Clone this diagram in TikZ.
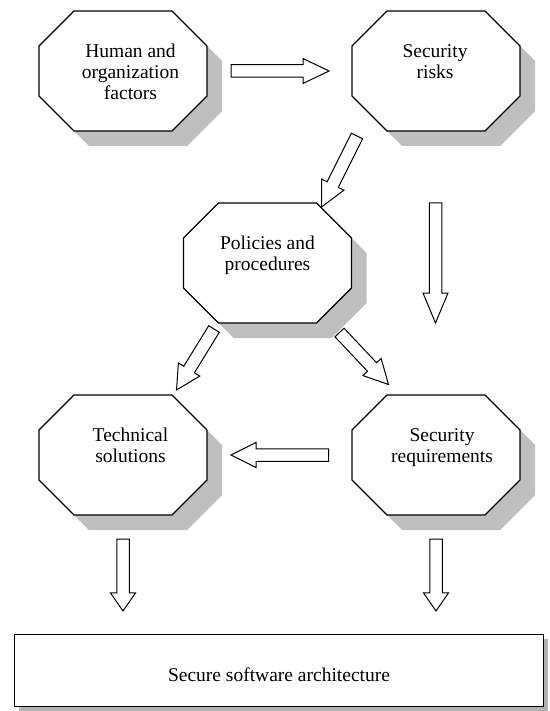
\documentclass[tikz,border=0pt]{standalone}
\usepackage{fontspec}
\setmainfont{Liberation Serif}
\usetikzlibrary{calc,shadows}

% octagon round a box node, shifted by (#2,#3)
\newcommand{\octpath}[3]{([shift={(35+#2,#3)}]#1.north west) -- ([shift={(-35+#2,#3)}]#1.north east)
  -- ([shift={(#2,35+#3)}]#1.north east) -- ([shift={(#2,-35+#3)}]#1.south east)
  -- ([shift={(-35+#2,#3)}]#1.south east) -- ([shift={(35+#2,#3)}]#1.south west)
  -- ([shift={(#2,-35+#3)}]#1.south west) -- ([shift={(#2,35+#3)}]#1.north west) -- cycle}

\begin{document}
\begin{tikzpicture}[x=1pt, y=-1pt,
    box/.style={minimum width=168pt, minimum height=120pt, inner sep=0pt, outer sep=0pt},
    octa/.style={draw, line width=1.1pt, fill=white},
    txt/.style={anchor=north, inner sep=0pt, align=center, font=\fontsize{19.5}{21}\selectfont},
    fatarrow/.style={line width=1pt, to path={
      ($(\tikztostart)!6.25pt!90:(\tikztotarget)$)
      -- ($(\tikztotarget)!#1!(\tikztostart)!6.25pt!-90:(\tikztostart)$)
      -- ($(\tikztotarget)!#1!(\tikztostart)!12.5pt!-90:(\tikztostart)$)
      -- (\tikztotarget)
      -- ($(\tikztotarget)!#1!(\tikztostart)!12.5pt!90:(\tikztostart)$)
      -- ($(\tikztotarget)!#1!(\tikztostart)!6.25pt!90:(\tikztostart)$)
      -- ($(\tikztostart)!6.25pt!-90:(\tikztotarget)$) -- cycle}},
    fatarrow/.default=25pt]
  \useasboundingbox (0,0) rectangle (549,711);

  % boxes
  \node[box] (human) at (123,71) {};
  \node[box] (risks) at (436,71) {};
  \node[box] (policies) at (267.5,263) {};
  \node[box] (tech) at (123,455) {};
  \node[box] (secreq) at (436,455) {};

  \foreach \b in {human, risks, policies, tech, secreq} {
    \fill[black!25] \octpath{\b}{15}{15};
    \draw[octa] \octpath{\b}{0}{0};
  }

  \node[draw, line width=1.1pt, fill=white, minimum width=529pt, minimum height=72pt,
    text height=22.5pt, text depth=0pt, font=\fontsize{19.5}{21}\selectfont,
    drop shadow={shadow xshift=4pt, shadow yshift=-4pt, fill=black!30, opacity=1}]
    (arch) at (279,670.5) {Secure software architecture};

  \node[txt] (human-t) at ([xshift=7.5pt,yshift=-33pt]human.north) {Human and\\organization\\factors};
  \node[txt] (risks-t) at ([xshift=-1pt,yshift=-33pt]risks.north) {Security\\risks};
  \node[txt] (policies-t) at ([yshift=-33pt]policies.north) {Policies and\\procedures};
  \node[txt] (tech-t) at ([xshift=7.5pt,yshift=-33pt]tech.north) {Technical\\solutions};
  \node[txt] (secreq-t) at ([xshift=6pt,yshift=-33pt]secreq.north) {Security\\requirements};

  % arrow ends
  \coordinate (a1s) at ([xshift=24pt]human.east);
  \coordinate (a1e) at ([xshift=-23pt]risks.west);
  \coordinate (a2s) at ([xshift=-79pt,yshift=-65pt]risks.center);
  \coordinate (a2e) at ([xshift=54pt,yshift=56pt]policies.center);
  \coordinate (a3s) at ([xshift=-0.5pt,yshift=-72pt]risks.south);
  \coordinate (a3e) at ([xshift=-0.5pt,yshift=72pt]secreq.north);
  \coordinate (a4s) at ([xshift=-53.5pt,yshift=-66pt]policies.center);
  \coordinate (a4e) at ([xshift=53.5pt,yshift=65pt]tech.center);
  \coordinate (a5s) at ([xshift=72pt,yshift=-69.5pt]policies.center);
  \coordinate (a5e) at ([xshift=-47.5pt,yshift=70.5pt]secreq.center);
  \coordinate (a6s) at ([xshift=-23.5pt]secreq.west);
  \coordinate (a6e) at ([xshift=24pt]tech.east);
  \coordinate (a7s) at ([yshift=-24pt]tech.south);
  \coordinate (a7e) at ($(tech.south |- arch.north)+(0,-23)$);
  \coordinate (a8s) at ([yshift=-24pt]secreq.south);
  \coordinate (a8e) at ($(secreq.south |- arch.north)+(0,-23)$);

  \foreach \s/\e/\h in {a1s/a1e/26pt, a2s/a2e/25pt, a3s/a3e/30pt, a4s/a4e/24pt,
    a5s/a5e/24pt, a6s/a6e/25pt, a7s/a7e/18pt, a8s/a8e/18pt} {
    \draw[fatarrow=\h] (\s) to (\e);
  }
\end{tikzpicture}
\end{document}
